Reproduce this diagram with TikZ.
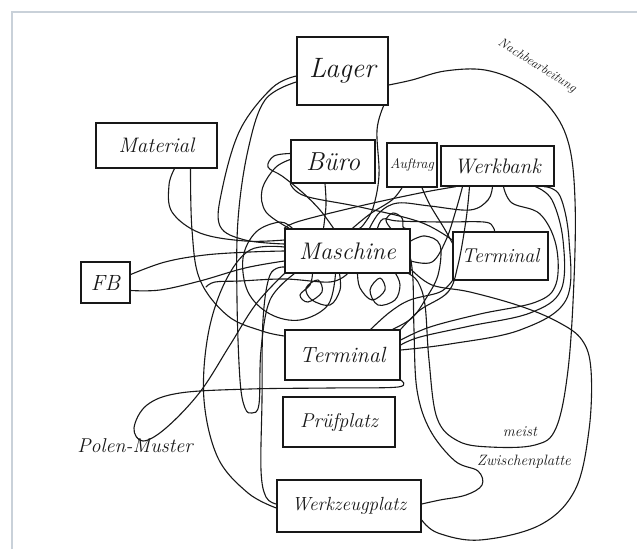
\documentclass[tikz,border=0pt]{standalone}
\definecolor{ink}{HTML}{181818}
\definecolor{edgegray}{HTML}{C9D1D9}
\newcommand\hfs[1]{\fontsize{#1}{#1}\selectfont\itshape}
\tikzset{
  box/.style={draw=ink, line width=1.4pt, rectangle, inner sep=0pt, text=ink},
  conn/.style={draw=ink, line width=1.1pt, line cap=round, line join=round},
  lbl/.style={inner sep=0pt, text=ink}
}
\begin{document}
\begin{tikzpicture}[x=1pt,y=-1pt]
\useasboundingbox (0,0) rectangle (637,549);
\fill[white] (0,0) rectangle (637,549);
\draw[edgegray, line width=1.6pt] (12,549) -- (12,12) -- (637,12);

% boxes
\node[box, minimum width=91, minimum height=68, font=\hfs{28}] (lager) at (342.5,71) {Lager};
\node[box, minimum width=121, minimum height=45, font=\hfs{21}] (mat) at (156.5,145.5) {Material};
\node[box, minimum width=84, minimum height=43, font=\hfs{26}] (buero) at (333,161.5) {Büro};
\node[box, minimum width=50, minimum height=44, font=\hfs{14}] (auft) at (412,165) {Auftrag};
\node[box, minimum width=113, minimum height=40, font=\hfs{21}] (werk) at (497.5,166) {Werkbank};
\node[box, minimum width=125, minimum height=44, font=\hfs{24}] (masch) at (347.5,251) {Maschine};
\node[box, minimum width=95, minimum height=48, font=\hfs{20}] (termR) at (500.5,256) {Terminal};
\node[box, minimum width=49, minimum height=41, font=\hfs{22}] (fb) at (105.5,282.5) {FB};
\node[box, minimum width=115, minimum height=50, font=\hfs{22}] (termC) at (342.5,355) {Terminal};
\node[box, minimum width=112, minimum height=50, font=\hfs{20}] (pruef) at (339,422) {Prüfplatz};
\node[box, minimum width=144, minimum height=52, font=\hfs{19}] (wzp) at (349,506) {Werkzeugplatz};

% labels
\node[lbl, font=\hfs{20}] (polen) at (135,446) {Polen-Muster};
\node[lbl, font=\hfs{15}] (meist) at (520,432) {meist};
\node[lbl, font=\hfs{15}] (zwisch) at (524,462) {Zwischenplatte};
\node[lbl, font=\hfs{13}, rotate=-32] (nachb) at (537,66) {Nachbearbeitung};

\coordinate (c31) at (206,287);

% connectors
\draw[conn] plot[smooth,tension=.6] coordinates {([yshift=-5pt]lager.west) (272,88) (240,130) (222,190) (220,226) (245,240) ([yshift=7pt]masch.west)};
\draw[conn] plot[smooth,tension=.6] coordinates {([yshift=-11pt]lager.west) (265,100) (248,150) (238,220) (237,300) (240,380) (245,408) (252,413) (259,404) (261,350) (270,300) ([xshift=10pt]masch.south west)};
\draw[conn] plot[smooth,tension=.6] coordinates {([yshift=-14pt]lager.east) (412,80) (445,71) (485,70) (522,84) (552,110) (569,145) (575,200) (574,280) (568,370) (556,428) (535,445) (490,447) (458,441) (437,418) (429,360) (425,305) (418,282) ([xshift=-2pt]masch.south east)};
\draw[conn] plot[smooth,tension=.6] coordinates {([xshift=-5pt]lager.south east) (377,130) (379,175) (373,208) (364,224) ([xshift=12pt]masch.north)};
\draw[conn] plot[smooth,tension=.6] coordinates {([xshift=18pt]mat.south) (169,185) (172,212) (200,233) (245,241) ([yshift=11pt]masch.west)};
\draw[conn] plot[smooth,tension=.6] coordinates {([xshift=34pt]mat.south) (192,230) (200,280) (228,316) (262,331) ([yshift=19pt]termC.west)};
\draw[conn] plot[smooth,tension=.6] coordinates {([yshift=8pt]fb.east) (165,262) (205,255) (250,252) (masch.west)};
\draw[conn] plot[smooth,tension=.6] coordinates {([yshift=-8pt]fb.east) (160,290) (200,281) (245,268) ([yshift=-10pt]masch.west)};
\draw[conn] plot[smooth,tension=.6] coordinates {([yshift=8pt]buero.west) (274,156) (268,167) (282,176) (302,192) (320,210) ([xshift=-14pt]masch.north)};
\draw[conn] plot[smooth,tension=.6] coordinates {(buero.south west) (305,196) (360,207) (420,222) ([yshift=16pt]termR.west)};
\draw[conn] plot[smooth,tension=.6] coordinates {([xshift=-8pt]buero.south) (326,205) ([xshift=-24pt]masch.north)};
\draw[conn] plot[smooth,tension=.6] coordinates {([xshift=30pt]masch.north) (383,219) (398,221) (440,222) (484,222) (493,227) ([xshift=-6pt]termR.north)};
\draw[conn] plot[smooth,tension=.6] coordinates {([xshift=10pt]auft.south) (430,205) (444,228) ([yshift=13pt]termR.west)};
\draw[conn] plot[smooth,tension=.6] coordinates {([xshift=-10pt]auft.south) (392,200) (370,214) ([xshift=5pt]masch.north)};
\draw[conn] plot[smooth,tension=.6] coordinates {(masch.north west) (300,221) (360,206) (420,193) ([xshift=-42pt]werk.south)};
\draw[conn] plot[smooth,tension=.6] coordinates {([xshift=-35pt]werk.south) (456,210) (446,240) (432,262) ([yshift=-10pt]masch.east)};
\draw[conn] plot[smooth,tension=.6] coordinates {([xshift=-28pt]werk.south) (466,220) (458,265) (448,292) (420,310) (termC.north east)};
\draw[conn] plot[smooth,tension=.6] coordinates {([xshift=-5pt]werk.south) (488,200) (470,210) (430,206) (398,203) (380,212) ([xshift=22pt]masch.north)};
\draw[conn] plot[smooth,tension=.6] coordinates {([xshift=6pt]werk.south) (512,203) (540,214) (556,245) (556,284) (536,302) (480,314) (430,327) ([yshift=15pt]termC.east)};
\draw[conn] plot[smooth,tension=.6] coordinates {([xshift=38pt]werk.south) (552,200) (563,240) (561,290) (530,313) (470,326) (420,337) ([yshift=10pt]termC.east)};
\draw[conn] plot[smooth,tension=.6] coordinates {([xshift=47pt]werk.south) (560,196) (569,240) (566,300) (520,330) (450,344) ([yshift=5pt]termC.east)};
\draw[conn] plot[smooth,tension=.6] coordinates {([yshift=-16pt]masch.west) (270,275) (263,320) (262,400) (261,470) (266,497) ([yshift=2pt]wzp.west)};
\draw[conn] plot[smooth,tension=.6] coordinates {([yshift=4pt]masch.west) (250,250) (225,282) (208,335) (204,400) (218,458) (248,493) ([yshift=-2pt]wzp.west)};
\draw[conn] plot[smooth,tension=.6] coordinates {([yshift=-25pt]termC.east) (398,387) (330,388) (250,389) (180,393) (147,405) (134,428) (143,441) (166,428) (200,392) (230,345) (256,304) (masch.south west)};
\draw[conn] plot[smooth,tension=.6] coordinates {([xshift=-35pt]masch.south) (310,285) (300,295) (308,302) (322,292) (318,280) (306,288) (312,300) (330,305) (340,290) ([xshift=-8pt]masch.south)};
\draw[conn] plot[smooth,tension=.6] coordinates {([xshift=10pt]masch.south) (360,288) (372,300) (385,290) (380,278) (370,290) (378,305) (395,300) (400,285) ([xshift=-15pt]masch.south east)};
\draw[conn] plot[smooth,tension=.6] coordinates {([yshift=-8pt]masch.east) (413,280) (414,330) (417,390) (430,430) (455,461) (478,471) (482,485) (466,495) (440,500) ([yshift=2pt]wzp.east)};
\draw[conn] plot[smooth,tension=.6] coordinates {([yshift=-14pt]wzp.east) (438,533) (480,540) (540,525) (575,490) (589,430) (591,370) (582,340) (558,322) (520,306) (470,292) (432,285) ([yshift=-18pt]masch.east)};
\draw[conn] plot[smooth,tension=.6] coordinates {([xshift=8pt]masch.north west) (280,222) (256,232) (243,258) (248,292) (270,314) (300,320) (328,305) ([xshift=-12pt]masch.south)};
\draw[conn] plot[smooth,tension=.6] coordinates {(c31) (215,282) (240,281) (285,279) (330,282) (masch.south)};
\draw[conn] plot[smooth,tension=.6] coordinates {(termR.south west) (440,292) (410,300) (390,312) ([xshift=-30pt]termC.north east)};
\draw[conn] plot[smooth,tension=.6] coordinates {([yshift=2pt]buero.west) (275,168) (262,190) (266,212) ([xshift=5pt]masch.north west)};
\draw[conn] plot[smooth,tension=.6] coordinates {([xshift=-20pt]masch.north east) (386,220) (393,213) (402,218) (403,227) ([xshift=-5pt]masch.north east)};
\draw[conn] plot[smooth,tension=.6] coordinates {([yshift=10pt]masch.east) (425,236) (440,245) (438,275) (425,300) (412,318) ([xshift=-8pt]termC.north east)};
\end{tikzpicture}
\end{document}
